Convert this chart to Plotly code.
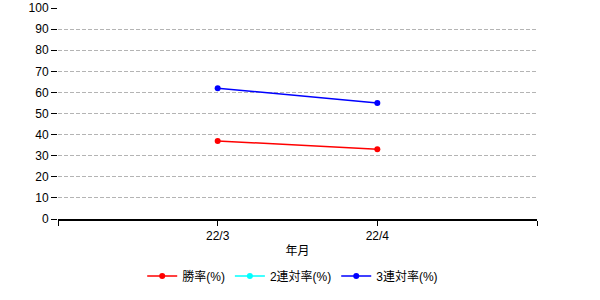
import plotly.graph_objects as go

months = ["22/3", "22/4"]
win_rate = [37.0, 33.0]
ren2_rate = [None, None]
ren3_rate = [62.0, 55.0]
y_ticks = list(range(0, 101, 10))

xpos = [i + 1 for i in range(len(months))]

fig = go.Figure()
series = [
    ("勝率(%)", win_rate, "#ff0000"),
    ("2連対率(%)", ren2_rate, "#00ffff"),
    ("3連対率(%)", ren3_rate, "#0000ff"),
]
for name, vals, color in series:
    fig.add_trace(go.Scatter(
        x=xpos, y=vals, name=name, mode="lines+markers",
        line=dict(color=color, width=1.5),
        marker=dict(color=color, size=6),
    ))

fig.update_layout(
    width=600, height=300,
    margin=dict(l=58, r=63, t=8, b=81),
    paper_bgcolor="white", plot_bgcolor="white",
    font=dict(family="Liberation Sans, Arial, Noto Sans CJK JP", size=12, color="black"),
    showlegend=True,
    legend=dict(orientation="h", x=0.49, xanchor="center", y=-0.27, yanchor="middle",
                font=dict(size=12), itemwidth=30, tracegroupgap=0),
    xaxis=dict(
        range=[0, len(months) + 1],
        tickvals=[0] + xpos + [len(months) + 1],
        ticktext=[""] + months + [""],
        showline=True, linecolor="black", linewidth=1.5,
        ticks="outside", ticklen=5, tickcolor="black",
        showgrid=False, zeroline=False, automargin=False,
        title=dict(text="年月", standoff=4, font=dict(size=12)),
    ),
    yaxis=dict(
        range=[0, 100],
        tickvals=y_ticks,
        showline=False, zeroline=False, automargin=False,
        ticks="outside", ticklen=6, tickcolor="black",
        showgrid=True, gridcolor="#b4b4b4", griddash="4px,2px", gridwidth=1,
    ),
)

fig.write_html("out.html")
